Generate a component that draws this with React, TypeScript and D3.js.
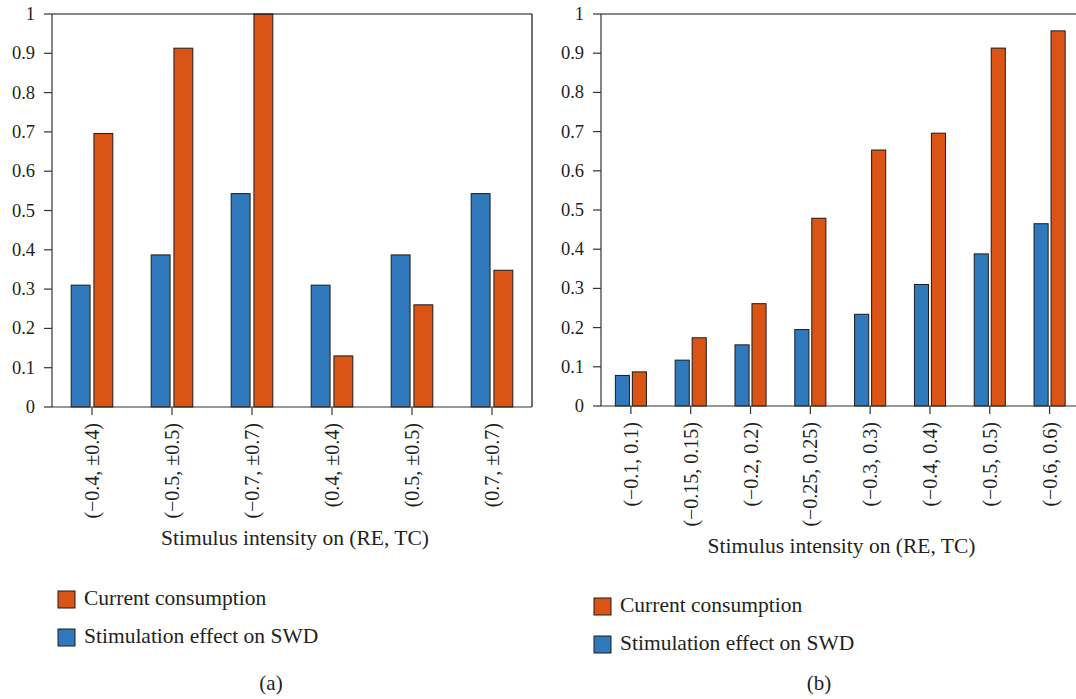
import React from "react";
import * as d3 from "d3";

// Panel (a): stimulus pairs with symmetric TC amplitude
const panelALabels = ["(−0.4, ±0.4)", "(−0.5, ±0.5)", "(−0.7, ±0.7)", "(0.4, ±0.4)", "(0.5, ±0.5)", "(0.7, ±0.7)"];
const panelASwd = [0.31, 0.387, 0.543, 0.31, 0.387, 0.543];
const panelACurrent = [0.696, 0.913, 1.0, 0.13, 0.26, 0.348];

// Panel (b): increasing stimulus intensity
const panelBLabels = ["(−0.1, 0.1)", "(−0.15, 0.15)", "(−0.2, 0.2)", "(−0.25, 0.25)", "(−0.3, 0.3)", "(−0.4, 0.4)", "(−0.5, 0.5)", "(−0.6, 0.6)"];
const panelBSwd = [0.078, 0.117, 0.156, 0.195, 0.234, 0.31, 0.388, 0.465];
const panelBCurrent = [0.087, 0.174, 0.261, 0.479, 0.653, 0.696, 0.913, 0.957];

const yTickValues = [0, 0.1, 0.2, 0.3, 0.4, 0.5, 0.6, 0.7, 0.8, 0.9, 1];
const yTickLabels = ["0", "0.1", "0.2", "0.3", "0.4", "0.5", "0.6", "0.7", "0.8", "0.9", "1"];

const seriesKeys = ["swd", "current"];
const seriesNames = { current: "Current consumption", swd: "Stimulation effect on SWD" };
const colors = { swd: "#2F79BC", current: "#DA5416" };

const FONT = "'Liberation Serif'";
const INK = "#231f20";

type PanelProps = {
  labels: string[];
  swd: number[];
  current: number[];
  left: number;
  right: number;
  top: number;
  bottom: number;
  titleY: number;
  legendX: number;
  legendY: number;
  legendGap: number;
  caption: string;
  captionX: number;
};

function Panel(p: PanelProps) {
  const x = d3.scaleBand<string>().domain(p.labels).range([p.left, p.right]).padding(0);
  const y = d3.scaleLinear().domain([0, 1]).range([p.bottom, p.top]);
  const group = x.bandwidth() * 0.52;
  const rows = p.labels.map((l, i) => ({ label: l, swd: p.swd[i], current: p.current[i] }));
  const titleX = (p.left + Math.min(p.right, 1076)) / 2 + 3;
  const txt = { fontFamily: FONT, fill: INK };

  return (
    <g>
      {/* bars */}
      {rows.map((r) => {
        const c = (x(r.label) as number) + x.bandwidth() / 2;
        const inner = d3.scaleBand<string>().domain(seriesKeys).range([c - group / 2, c + group / 2]).paddingInner(0.17);
        return (
          <g key={r.label}>
            {seriesKeys.map((k) => {
              const v = (r as any)[k] as number;
              return (
                <rect
                  key={k}
                  x={inner(k)}
                  y={y(v)}
                  width={inner.bandwidth()}
                  height={y(0) - y(v)}
                  fill={(colors as any)[k]}
                  stroke="#1c1c1c"
                  strokeWidth={1}
                />
              );
            })}
          </g>
        );
      })}

      {/* frame */}
      <line x1={p.left} x2={p.right} y1={p.top} y2={p.top} stroke="#111" strokeWidth={1.2} />
      <line x1={p.right} x2={p.right} y1={p.top} y2={p.bottom} stroke="#111" strokeWidth={1.2} />
      <line x1={p.left} x2={p.left} y1={p.top} y2={p.bottom} stroke="#333" strokeWidth={1.2} />
      <line x1={p.left} x2={p.right} y1={p.bottom} y2={p.bottom} stroke="#333" strokeWidth={1.2} />

      {/* y axis */}
      {yTickValues.map((t, i) => (
        <g key={t}>
          <line x1={p.left - 8} x2={p.left} y1={y(t)} y2={y(t)} stroke="#333" strokeWidth={1.2} />
          <text x={p.left - 17} y={y(t)} textAnchor="end" dominantBaseline="central" fontSize={18.5} style={txt}>
            {yTickLabels[i]}
          </text>
        </g>
      ))}

      {/* x axis */}
      {p.labels.map((l) => {
        const c = (x(l) as number) + x.bandwidth() / 2;
        return (
          <g key={l}>
            <line x1={c} x2={c} y1={p.bottom} y2={p.bottom + 8} stroke="#333" strokeWidth={1.2} />
            <text
              transform={`translate(${c},${p.bottom + 16}) rotate(-90)`}
              textAnchor="end"
              dominantBaseline="central"
              fontSize={20}
              style={txt}
            >
              {l}
            </text>
          </g>
        );
      })}

      <text x={titleX} y={p.titleY} textAnchor="middle" fontSize={21.5} style={txt}>
        Stimulus intensity on (RE, TC)
      </text>

      {/* legend */}
      {["current", "swd"].map((k, i) => (
        <g key={k} transform={`translate(${p.legendX},${p.legendY + i * p.legendGap})`}>
          <rect x={0} y={0} width={17} height={17} fill={(colors as any)[k]} stroke="#1c1c1c" strokeWidth={1} />
          <text x={26} y={14} fontSize={21.5} style={txt}>
            {(seriesNames as any)[k]}
          </text>
        </g>
      ))}

      <text x={p.captionX} y={690} textAnchor="middle" fontSize={21} style={txt}>
        {p.caption}
      </text>
    </g>
  );
}

export default function App() {
  return (
    <svg
      width={1076}
      height={699}
      style={{ position: "absolute", left: 0, top: 0, background: "#fff" }}
    >
      <rect width={1076} height={699} fill="#fff" />
      <Panel
        labels={panelALabels}
        swd={panelASwd}
        current={panelACurrent}
        left={52}
        right={532}
        top={14}
        bottom={407}
        titleY={545}
        legendX={58}
        legendY={591}
        legendGap={38}
        caption="(a)"
        captionX={271}
      />
      <Panel
        labels={panelBLabels}
        swd={panelBSwd}
        current={panelBCurrent}
        left={601}
        right={1079.5}
        top={14}
        bottom={406}
        titleY={553}
        legendX={594}
        legendY={598}
        legendGap={38}
        caption="(b)"
        captionX={819}
      />
    </svg>
  );
}
